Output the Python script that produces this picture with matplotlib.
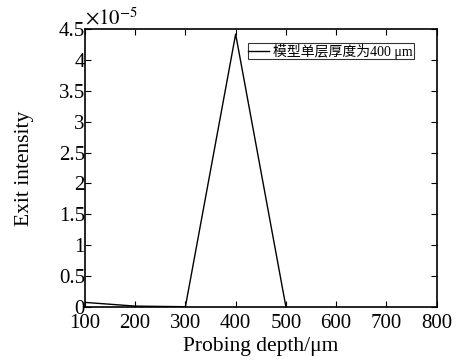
import matplotlib.pyplot as plt
import matplotlib

matplotlib.rcParams['font.family'] = ['Liberation Serif', 'Noto Sans CJK SC']
matplotlib.rcParams['mathtext.fontset'] = 'stix'

# depth (um) and exit intensity (x1e-5)
depth = [100, 200, 300, 400, 500]
intensity = [0.07e-5, 0.01e-5, 0.0, 4.42e-5, 0.0]
x_ticks = [100, 200, 300, 400, 500, 600, 700, 800]
y_ticks = [0, 0.5, 1, 1.5, 2, 2.5, 3, 3.5, 4, 4.5]

fig = plt.figure(figsize=(4.64, 3.6), dpi=100)
ax = fig.add_axes([0.183, 0.148, 0.758, 0.771])

ax.plot(depth, intensity, color='black', linewidth=1.0, label='模型单层厚度为400 μm')

ax.set_xlim(100, 800)
ax.set_ylim(0, 4.5e-5)
ax.set_xticks(x_ticks)
ax.set_yticks([v * 1e-5 for v in y_ticks])
ax.set_yticklabels(['0', '0.5', '1', '1.5', '2', '2.5', '3', '3.5', '4', '4.5'])
ax.tick_params(direction='in', top=True, right=True, labelsize=15, length=4)
ax.tick_params(axis='y', pad=0)
ax.tick_params(axis='x', pad=5)
for s in ax.spines.values():
    s.set_linewidth(1.2)

ax.set_xlabel('Probing depth/μm', fontsize=15.5, labelpad=3)
ax.set_ylabel('Exit intensity', fontsize=15.5, labelpad=18)
ax.text(0.0, 1.0, r'$\times10^{-5}$', transform=ax.transAxes, fontsize=15,
        ha='left', va='bottom')

leg = ax.legend(loc='upper right', bbox_to_anchor=(0.935, 0.95), fontsize=10,
                frameon=True, fancybox=False, edgecolor='black', handlelength=1.5,
                handletextpad=0.3, borderpad=0.05, borderaxespad=0)
leg.get_frame().set_linewidth(0.8)

fig.savefig('out.png', dpi=100)
